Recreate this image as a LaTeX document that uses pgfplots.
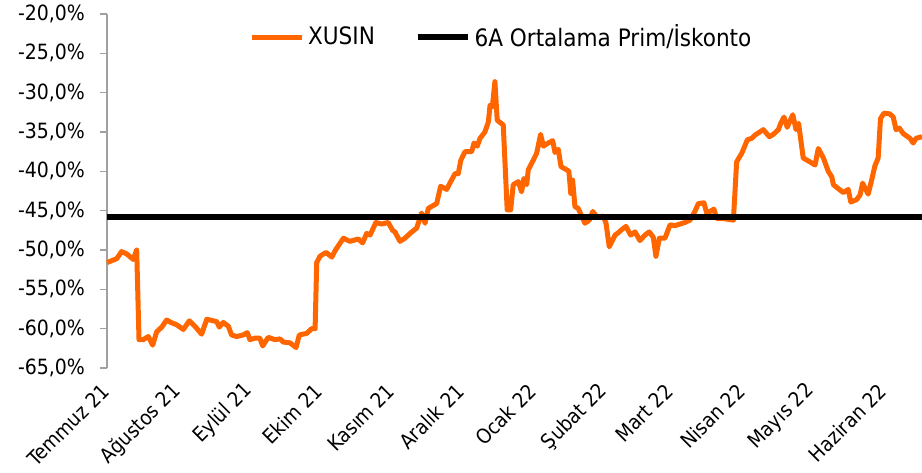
\documentclass[border=0pt]{standalone}
\usepackage{pgfplots}
\pgfplotsset{compat=1.18}
\usepackage{fontspec}
\setmainfont{DejaVu Sans Condensed}
\definecolor{xorange}{RGB}{255,102,0}
\definecolor{axgray}{RGB}{160,160,160}
\begin{document}
\begin{tikzpicture}
\begin{axis}[
  scale only axis,
  width=407.5pt, height=177pt,
  xmin=0, xmax=351.3,
  ymin=-65, ymax=-20,
  axis lines*=left,
  x axis line style={draw=none},
  y axis line style={draw=axgray, line width=0.8pt},
  xtick={0,31,62,92,123,153,184,215,243,274,304,335},
  xticklabels={Temmuz 21,Ağustos 21,Eylül 21,Ekim 21,Kasım 21,Aralık 21,Ocak 22,Şubat 22,Mart 22,Nisan 22,Mayıs 22,Haziran 22},
  xtick style={draw=none},
  xticklabel style={rotate=45, anchor=east, font=\fontsize{10.2}{12}\selectfont, inner sep=1pt},
  xticklabel shift=5.5pt,
  ytick={-65,-60,-55,-50,-45,-40,-35,-30,-25,-20},
  yticklabels={{-65,0\%},{-60,0\%},{-55,0\%},{-50,0\%},{-45,0\%},{-40,0\%},{-35,0\%},{-30,0\%},{-25,0\%},{-20,0\%}},
  ytick style={draw=axgray, line width=0.8pt},
  tick align=outside,
  major tick length=3.5pt,
  yticklabel style={font=\fontsize{10.5}{12}\selectfont, xshift=-4pt},
  legend style={at={(rel axis cs:0.485,0.935)}, anchor=center, draw=none, fill=none,
    font=\fontsize{12}{14}\selectfont, legend columns=2,
    /tikz/every even column/.append style={column sep=18pt}},
  legend image code/.code={\draw[#1] (0pt,0pt) -- (25pt,0pt);},
  clip=false,
]
\addplot[xorange, line width=2.5pt, line join=round] coordinates {
(0,-51.6) (4.2,-51.1) (6.3,-50.2) (8.5,-50.5) (11.3,-51.2) (12.8,-50.0) (13.8,-61.4)
(15.6,-61.4) (17.8,-61.0) (19.7,-62.1) (21.4,-60.4) (23.6,-59.8) (25.7,-58.9) (27.5,-59.2)
(30.0,-59.5) (32.9,-60.1) (35.5,-59.0) (37.9,-59.7) (40.8,-60.7) (43.0,-58.8) (45.8,-59.0)
(47.3,-59.1) (48.4,-59.8) (50.1,-59.2) (52.3,-59.7) (53.7,-60.8) (55.9,-61.0) (58.7,-60.8)
(60.5,-60.5) (61.6,-61.4) (63.8,-61.2) (65.9,-61.2) (67.1,-62.2) (69.5,-61.1) (72.4,-61.4)
(74.6,-61.3) (76.0,-61.7) (78.9,-61.8) (81.5,-62.4) (82.9,-60.8) (86.1,-60.6) (88.2,-60.0)
(89.7,-60.0) (90.4,-51.6) (91.8,-50.8) (94.4,-50.3) (96.9,-50.9) (98.3,-50.1) (101.9,-48.5)
(104.7,-48.9) (108.3,-48.6) (110.2,-49.1) (111.9,-47.9) (113.4,-48.1) (115.9,-46.5)
(118.4,-46.7) (121.2,-46.5) (123.1,-47.5) (124.1,-47.7) (126.3,-48.9) (128.4,-48.5)
(130.6,-47.9) (133.5,-47.2) (135.6,-45.3) (137.1,-46.6) (138.5,-44.7) (142.1,-44.1)
(143.8,-41.9) (146.4,-42.3) (147.8,-41.5) (150.0,-40.3) (151.4,-40.3) (152.5,-38.6)
(154.3,-37.5) (157.2,-37.5) (158.2,-36.4) (159.6,-36.8) (160.8,-35.8) (162.9,-35.0)
(164.4,-33.7) (165.1,-31.6) (166.1,-31.8) (167.2,-28.6) (168.2,-33.5) (170.8,-34.1)
(172.5,-44.9) (174.0,-44.9) (175.1,-41.7) (177.3,-41.3) (178.7,-42.6) (179.7,-40.9)
(180.9,-41.7) (181.6,-39.8) (183.7,-38.6) (185.2,-37.7) (186.9,-35.3) (188.1,-36.8)
(190.2,-36.4) (192.1,-36.1) (193.1,-37.6) (194.5,-37.2) (195.7,-39.4) (198.1,-39.8)
(199.1,-40.0) (199.9,-42.8) (200.7,-41.1) (201.7,-44.5) (203.1,-44.7) (206.0,-46.6)
(207.9,-46.2) (209.4,-45.1) (211.1,-45.8) (213.9,-45.7) (215.1,-46.6) (216.5,-49.6)
(219.0,-48.1) (220.4,-47.8) (221.9,-47.4) (223.7,-47.0) (225.7,-48.1) (227.6,-47.7)
(229.7,-48.8) (231.9,-48.1) (233.7,-47.7) (235.5,-48.4) (236.6,-50.8) (238.1,-48.5)
(240.5,-48.5) (242.7,-46.8) (244.8,-46.9) (247.0,-46.7) (249.1,-46.5) (251.3,-46.2)
(253.4,-45.1) (254.9,-44.1) (257.3,-44.0) (258.5,-45.3) (259.9,-45.1) (261.6,-44.8)
(262.8,-46.0) (265.6,-46.0) (270.0,-46.2) (271.4,-38.8) (273.6,-37.7) (276.0,-36.0)
(277.9,-35.8) (279.3,-35.4) (282.9,-34.7) (285.5,-35.6) (287.2,-35.3) (289.4,-34.7)
(290.4,-33.9) (291.8,-33.1) (293.2,-34.4) (295.6,-32.8) (297.0,-34.7) (298.1,-33.9)
(300.1,-38.3) (303.0,-38.8) (305.2,-39.2) (306.6,-37.1) (308.8,-38.3) (310.9,-40.0)
(312.4,-40.7) (313.1,-41.7) (315.2,-42.2) (317.4,-42.7) (319.5,-42.3) (320.6,-43.9)
(323.1,-43.6) (324.6,-43.0) (325.7,-41.5) (328.1,-42.9) (329.6,-41.1) (331.0,-39.3)
(332.4,-38.3) (333.4,-33.3) (334.9,-32.6) (337.4,-32.7) (338.9,-33.1) (340.1,-34.7)
(341.5,-34.5) (343.2,-35.2) (346.1,-35.8) (347.5,-36.4) (348.7,-35.8) (351.3,-35.6)
};
\addlegendentry{XUSIN}
\addplot[black, line width=2.8pt] coordinates {(0,-45.8) (351.3,-45.8)};
\addlegendentry{6A Ortalama Prim/İskonto}
\end{axis}
\pgfresetboundingbox
\path (-53.5pt,-52pt) rectangle (407.5pt,184pt);
\end{tikzpicture}
\end{document}
